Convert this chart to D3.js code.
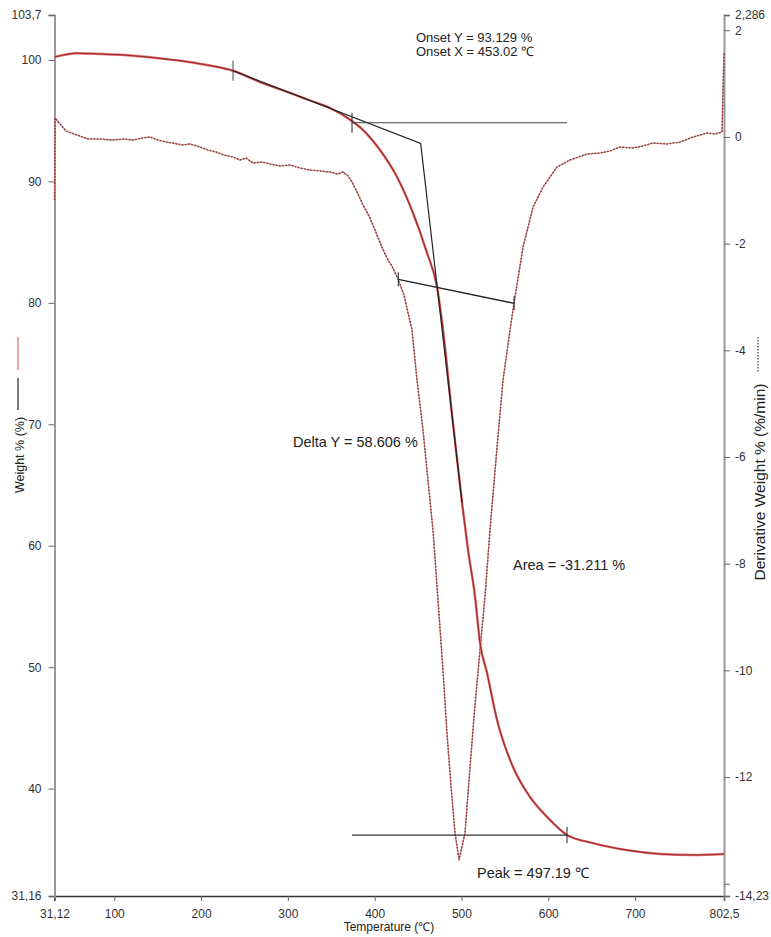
<!DOCTYPE html>
<html>
<head>
<meta charset="utf-8">
<script src="https://cdn.jsdelivr.net/npm/d3@7"></script>
<style>
  body { margin: 0; background: #fff; }
  svg { display: block; font-family: "Liberation Sans", Arial, sans-serif; }
</style>
</head>
<body>
<svg id="chart"></svg>
<script>
// weight curve (solid), temperature in °C, weight in %
const weightTemp = [31.12, 56.7, 83.5, 121.6, 152.7, 183.8, 206.8, 236.8, 267.9, 302.5, 325.5, 348.6,
  373.9, 386.6, 406.2, 425.8, 444.2, 460.4, 471.9, 478.8, 489.2, 500.7, 507.6, 515.7, 521.4, 529.5,
  541.0, 559.4, 579.0, 598.6, 621.6, 651.6, 690.8, 728.8, 766.8, 802.5];
const weightPct = [100.24, 100.55, 100.49, 100.35, 100.13, 99.85, 99.58, 99.11, 98.18, 97.28, 96.66, 96.04,
  94.97, 94.23, 92.58, 90.36, 87.40, 84.10, 81.30, 77.76, 70.76, 63.52, 59.65, 55.78, 51.99, 49.52,
  45.65, 41.78, 39.31, 37.67, 36.18, 35.52, 34.94, 34.62, 34.53, 34.62];

// derivative curve (dashed), %/min
const derivTemp = [31.12, 31.7, 37.5, 44.4, 57.0, 69.7, 83.5, 97.4, 111.2, 121.6, 131.9, 141.1, 150.4,
  159.6, 167.7, 178.0, 187.2, 198.8, 208.0, 217.2, 226.4, 236.8, 244.9, 251.8, 259.8, 270.2, 279.4,
  290.9, 302.5, 314.0, 325.5, 337.0, 348.6, 357.8, 363.6, 369.3, 373.9, 379.7, 386.6, 393.5, 400.4,
  407.3, 414.2, 421.1, 426.9, 433.8, 443.0, 448.8, 455.7, 461.4, 467.2, 473.0, 478.7, 483.3, 487.9,
  492.6, 497.2, 504.1, 509.9, 515.6, 521.4, 527.1, 532.9, 541.0, 547.9, 556.0, 560.6, 571.0, 582.5,
  594.0, 610.1, 625.1, 644.7, 659.7, 671.2, 682.7, 697.7, 709.2, 720.7, 736.8, 751.8, 766.8, 782.9,
  792.1, 800.2, 802.5];
const derivVal = [-1.18, 0.355, 0.243, 0.111, 0.036, -0.039, -0.039, -0.058, -0.039, -0.058, -0.020, -0.001, -0.058,
  -0.095, -0.114, -0.151, -0.132, -0.189, -0.245, -0.283, -0.339, -0.376, -0.433, -0.395, -0.489, -0.470, -0.508,
  -0.545, -0.526, -0.582, -0.620, -0.639, -0.658, -0.695, -0.658, -0.733, -0.845, -1.032, -1.276, -1.482, -1.745,
  -2.026, -2.270, -2.457, -2.663, -2.963, -3.619, -4.557, -5.494, -6.432, -7.369, -8.682, -9.994, -11.175, -12.150,
  -13.050, -13.556, -13.050, -11.81, -10.65, -9.62, -8.625, -7.370, -5.813, -4.557, -3.619, -3.113, -2.063, -1.314,
  -0.939, -0.564, -0.432, -0.320, -0.301, -0.264, -0.189, -0.207, -0.170, -0.114, -0.132, -0.095, -0.001, 0.074,
  0.055, 0.093, 1.574];

// axis ticks
const xTicks = [31.12, 100, 200, 300, 400, 500, 600, 700, 802.5];
const xTickLabels = ["31,12", "100", "200", "300", "400", "500", "600", "700", "802,5"];
const leftTicks = [31.16, 40, 50, 60, 70, 80, 90, 100, 103.7];
const leftTickLabels = ["31,16", "40", "50", "60", "70", "80", "90", "100", "103,7"];
const rightTicks = [-14.23, -14, -12, -10, -8, -6, -4, -2, 0, 2, 2.286];
const rightTickLabels = ["-14,23", "", "-12", "-10", "-8", "-6", "-4", "-2", "0", "2", "2,286"];

// analysis annotations
const onsetTangent = [[236.8, 99.11], [453.02, 93.129], [500.7, 63.52]];
const onsetLevel = [[373.9, 94.83], [621.6, 94.83]];
const areaBase = [[427.2, -2.669], [560.6, -3.119]];
const peakLevel = [[373.9, 36.18], [621.6, 36.18]];

const W = 771, H = 937;
const svg = d3.select('#chart').attr('width', W).attr('height', H);

const x = d3.scaleLinear().domain([31.12, 802.5]).range([54.5, 724]);
const yL = d3.scaleLinear().domain([31.16, 103.7]).range([896, 15]);
const yR = d3.scaleLinear().domain([-14.23, 2.286]).range([896, 15]);

// axes
const bottom = svg.append('g').attr('transform', 'translate(0,896)')
  .call(d3.axisBottom(x).tickValues(xTicks).tickFormat((d, i) => xTickLabels[i]).tickSizeOuter(0).tickSize(5).tickPadding(8));
const left = svg.append('g').attr('transform', 'translate(54.5,0)')
  .call(d3.axisLeft(yL).tickValues(leftTicks).tickFormat((d, i) => leftTickLabels[i]).tickSizeOuter(0).tickSize(6).tickPadding(7));
const right = svg.append('g').attr('transform', 'translate(724,0)')
  .call(d3.axisRight(yR).tickValues(rightTicks).tickFormat((d, i) => rightTickLabels[i]).tickSizeOuter(0).tickSize(6).tickPadding(5));

[bottom, left, right].forEach(g => {
  g.selectAll('text').style('font-size', '12px').style('fill', '#333').style('font-family', '"Liberation Sans", Arial, sans-serif');
  g.selectAll('.tick line').style('stroke', '#666');
});
bottom.select('.domain').style('stroke', '#333').style('stroke-width', 1.5);
left.select('.domain').style('stroke', '#999').style('stroke-width', 2);
right.select('.domain').style('stroke', '#999').style('stroke-width', 2);

// derivative curve: light red under a dotted dark stroke
const derivData = derivTemp.map((t, i) => [t, derivVal[i]]);
const dLine = d3.line().x(d => x(d[0])).y(d => yR(d[1]));
svg.append('path').datum(derivData).attr('d', dLine)
  .attr('fill', 'none').attr('stroke', '#e07a7a').attr('stroke-width', 1.2);
svg.append('path').datum(derivData).attr('d', dLine)
  .attr('fill', 'none').attr('stroke', '#7a4545').attr('stroke-width', 1.5).attr('stroke-dasharray', '1.6,1.6');

// weight curve
const weightData = weightTemp.map((t, i) => [t, weightPct[i]]);
const wLine = d3.line().x(d => x(d[0])).y(d => yL(d[1])).curve(d3.curveMonotoneX);
svg.append('path').datum(weightData).attr('d', wLine)
  .attr('fill', 'none').attr('stroke', '#e06b6b').attr('stroke-width', 2.4);
svg.append('path').datum(weightData).attr('d', wLine)
  .attr('fill', 'none').attr('stroke', '#9b2b2b').attr('stroke-width', 1.1);

// annotation lines
const lineL = d3.line().x(d => x(d[0])).y(d => yL(d[1]));
const lineR = d3.line().x(d => x(d[0])).y(d => yR(d[1]));
svg.append('path').attr('d', lineL(onsetTangent)).attr('fill', 'none').attr('stroke', '#222').attr('stroke-width', 1.2);
svg.append('path').attr('d', lineL(onsetLevel)).attr('fill', 'none').attr('stroke', '#444').attr('stroke-width', 1.2);
svg.append('path').attr('d', lineR(areaBase)).attr('fill', 'none').attr('stroke', '#222').attr('stroke-width', 1.4);
svg.append('path').attr('d', lineL(peakLevel)).attr('fill', 'none').attr('stroke', '#333').attr('stroke-width', 1.2);

// small vertical markers
function marker(px, py, half, color) {
  svg.append('line').attr('x1', px).attr('x2', px).attr('y1', py - half).attr('y2', py + half)
    .attr('stroke', color).attr('stroke-width', 1.1);
}
marker(x(onsetTangent[0][0]), yL(onsetTangent[0][1]), 10, '#556');
marker(x(onsetLevel[0][0]), yL(onsetLevel[0][1]), 10, '#333');
marker(x(areaBase[0][0]), yR(areaBase[0][1]), 7, '#333');
marker(x(areaBase[1][0]), yR(areaBase[1][1]), 7, '#333');
marker(x(peakLevel[1][0]), yL(peakLevel[1][1]), 8, '#333');

// labels
const lab = (t, lx, ly, size) => svg.append('text').attr('x', lx).attr('y', ly).text(t)
  .style('font-size', size + 'px').style('fill', '#222');
lab('Onset Y = 93.129 %', 416, 42, 13);
lab('Onset X = 453.02 ℃', 416, 56, 13);
lab('Delta Y = 58.606 %', 293, 447, 14.5);
lab('Area = -31.211 %', 513, 570, 14.5);
lab('Peak = 497.19 ℃', 477, 878, 14.5);

// axis titles
svg.append('text').attr('x', 389).attr('y', 931).attr('text-anchor', 'middle')
  .style('font-size', '12px').style('fill', '#222').text('Temperature (℃)');
svg.append('text').attr('transform', 'translate(24,455) rotate(-90)').attr('text-anchor', 'middle')
  .style('font-size', '12.5px').style('fill', '#222').text('Weight % (%)');
svg.append('text').attr('transform', 'translate(765,482) rotate(-90)').attr('text-anchor', 'middle')
  .style('font-size', '15.5px').style('fill', '#222').text('Derivative Weight % (%/min)');

// legend swatches beside the titles
svg.append('line').attr('x1', 18).attr('x2', 18).attr('y1', 337).attr('y2', 370).attr('stroke', '#e89090').attr('stroke-width', 1.6);
svg.append('line').attr('x1', 18).attr('x2', 18).attr('y1', 378).attr('y2', 410).attr('stroke', '#444').attr('stroke-width', 1.4);
svg.append('line').attr('x1', 758).attr('x2', 758).attr('y1', 337).attr('y2', 372).attr('stroke', '#555').attr('stroke-width', 1.4).attr('stroke-dasharray', '1.5,1.5');
</script>
</body>
</html>
